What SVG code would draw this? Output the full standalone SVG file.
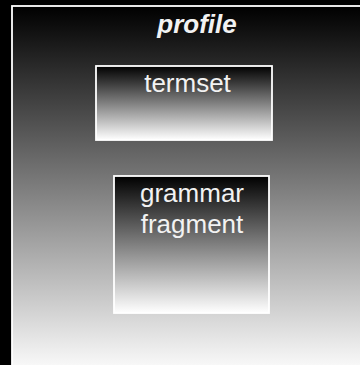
<svg xmlns="http://www.w3.org/2000/svg" width="360" height="365" viewBox="0 0 360 365">
  <defs>
    <linearGradient id="fade" x1="0" y1="0" x2="0" y2="1">
      <stop offset="0" stop-color="#000000"/>
      <stop offset="1" stop-color="#ffffff"/>
    </linearGradient>
    <style>
      .frame { fill: url(#fade); stroke: #ffffff; stroke-width: 1.8; }
      .label { font-family: "Liberation Sans", Arial, sans-serif; font-size: 26px; fill: #f2f2f2; text-anchor: middle; }
      .title { font-weight: bold; font-style: italic; }
    </style>
  </defs>

  <!-- canvas -->
  <rect x="0" y="0" width="360" height="365" fill="#000000"/>

  <!-- container: profile -->
  <g id="profile">
    <rect class="frame" x="12" y="6" width="360" height="370"/>
    <text class="label title" x="197" y="33">profile</text>
  </g>

  <!-- node: termset -->
  <g id="termset">
    <rect class="frame" x="96" y="66" width="176" height="74"/>
    <text class="label" x="187.5" y="92">termset</text>
  </g>

  <!-- node: grammar fragment -->
  <g id="grammar-fragment">
    <rect class="frame" x="114" y="176" width="155" height="137"/>
    <text class="label" x="192" y="202">grammar</text>
    <text class="label" x="192" y="233">fragment</text>
  </g>

  <!-- connectors -->
  <g id="connectors"/>
</svg>
